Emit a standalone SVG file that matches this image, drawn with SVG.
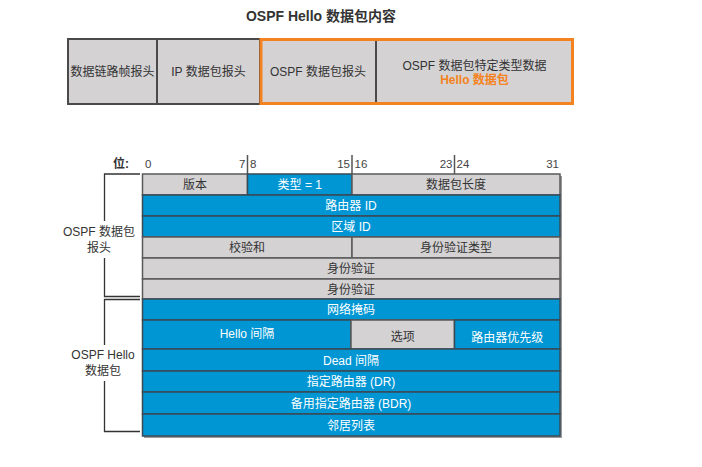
<svg xmlns="http://www.w3.org/2000/svg" width="702" height="467" viewBox="0 0 702 467">
<style>
text{font-family:"Liberation Sans","Noto Sans CJK SC",sans-serif;font-size:12px;text-anchor:middle}
.title{font-size:14px;font-weight:bold;fill:#333}
.box{fill:#d4d2d3;stroke:#4a4a4a;stroke-width:2}
.g{fill:#d4d2d3;stroke:#5a5a5a;stroke-width:1.5}
.b{fill:#0096d4;stroke:#3a4a55;stroke-width:1.5}
.tg{fill:#333}
.tb{fill:#fff}
.bit{font-size:11.5px;fill:#444}
.lbl{fill:#333}
.br{fill:none;stroke:#333;stroke-width:1.3}
</style>
<rect width="702" height="467" fill="#fff"/>
<text class="title" x="321" y="21">OSPF Hello 数据包内容</text>

<g id="frame-header">
<rect class="box" x="68" y="39" width="89" height="65"/>
<text class="tg" x="112.5" y="76">数据链路帧报头</text>
</g>
<g id="ip-header">
<rect class="box" x="157" y="39" width="103" height="65"/>
<text class="tg" x="208.5" y="76">IP 数据包报头</text>
</g>
<g id="ospf-header">
<rect class="box" x="260" y="39" width="116" height="65"/>
<text class="tg" x="318" y="76">OSPF 数据包报头</text>
</g>
<g id="ospf-data">
<rect class="box" x="376" y="39" width="197" height="65"/>
<text class="tg" x="474.5" y="70">OSPF 数据包特定类型数据</text>
<text x="474.5" y="84" style="fill:#f58220;font-weight:bold">Hello 数据包</text>
</g>
<g id="highlight">
<rect x="261" y="39.5" width="311.5" height="64" fill="none" stroke="#f58220" stroke-width="3"/>
</g>

<g id="bit-header">
<text x="121" y="168" style="font-weight:bold;fill:#333">位:</text>
<text class="bit" x="145" y="168" style="text-anchor:start">0</text>
<text class="bit" x="245.5" y="168" style="text-anchor:end">7</text>
<text class="bit" x="250" y="168" style="text-anchor:start">8</text>
<text class="bit" x="350" y="168" style="text-anchor:end">15</text>
<text class="bit" x="354.5" y="168" style="text-anchor:start">16</text>
<text class="bit" x="452.5" y="168" style="text-anchor:end">23</text>
<text class="bit" x="456.5" y="168" style="text-anchor:start">24</text>
<text class="bit" x="559" y="168" style="text-anchor:end">31</text>
<line x1="247.5" y1="155" x2="247.5" y2="174" stroke="#555" stroke-width="1.5"/>
<line x1="352" y1="155" x2="352" y2="174" stroke="#555" stroke-width="1.5"/>
<line x1="454.5" y1="155" x2="454.5" y2="174" stroke="#555" stroke-width="1.5"/>
</g>

<rect x="144" y="176" width="418" height="262" fill="#9a9a9a"/>

<g id="version"><rect class="g" x="142.5" y="174" width="105" height="21"/><text class="tg" x="195" y="189">版本</text></g>
<g id="type"><rect class="b" x="247.5" y="174" width="104.5" height="21"/><text class="tb" x="299.75" y="189">类型 = 1</text></g>
<g id="length"><rect class="g" x="352" y="174" width="208" height="21"/><text class="tg" x="456" y="189">数据包长度</text></g>
<g id="router-id"><rect class="b" x="142.5" y="195" width="417.5" height="21"/><text class="tb" x="351" y="210">路由器 ID</text></g>
<g id="area-id"><rect class="b" x="142.5" y="216" width="417.5" height="21"/><text class="tb" x="351" y="231">区域 ID</text></g>
<g id="checksum"><rect class="g" x="142.5" y="237" width="209.5" height="21"/><text class="tg" x="247" y="252">校验和</text></g>
<g id="auth-type"><rect class="g" x="352" y="237" width="208" height="21"/><text class="tg" x="456" y="252">身份验证类型</text></g>
<g id="auth1"><rect class="g" x="142.5" y="258" width="417.5" height="21"/><text class="tg" x="351" y="273">身份验证</text></g>
<g id="auth2"><rect class="g" x="142.5" y="279" width="417.5" height="20"/><text class="tg" x="351" y="293.5">身份验证</text></g>
<g id="netmask"><rect class="b" x="142.5" y="299" width="417.5" height="21"/><text class="tb" x="351" y="314">网络掩码</text></g>
<g id="hello-interval"><rect class="b" x="142.5" y="320" width="208.5" height="29"/><text class="tb" x="247" y="338">Hello 间隔</text></g>
<g id="options"><rect class="g" x="351" y="320" width="103.5" height="29"/><text class="tg" x="402.75" y="341">选项</text></g>
<g id="priority"><rect class="b" x="454.5" y="320" width="105.5" height="29"/><text class="tb" x="507.25" y="342">路由器优先级</text></g>
<g id="dead-interval"><rect class="b" x="142.5" y="349" width="417.5" height="22"/><text class="tb" x="351" y="364.5">Dead 间隔</text></g>
<g id="dr"><rect class="b" x="142.5" y="371" width="417.5" height="21"/><text class="tb" x="351" y="386">指定路由器 (DR)</text></g>
<g id="bdr"><rect class="b" x="142.5" y="392" width="417.5" height="22"/><text class="tb" x="351" y="407.5">备用指定路由器 (BDR)</text></g>
<g id="neighbors"><rect class="b" x="142.5" y="414" width="417.5" height="22"/><text class="tb" x="351" y="429.5">邻居列表</text></g>

<g id="label-ospf-header">
<text class="lbl" x="99" y="236">OSPF 数据包</text>
<text class="lbl" x="99" y="252">报头</text>
</g>
<g id="label-hello">
<text class="lbl" x="103" y="359">OSPF Hello</text>
<text class="lbl" x="103" y="375">数据包</text>
</g>

<g id="connectors">
<polyline class="br" points="140,174 104.5,174 104.5,221"/>
<polyline class="br" points="104.5,258 104.5,296.5 140,296.5"/>
<polyline class="br" points="140,299.5 104.5,299.5 104.5,345"/>
<polyline class="br" points="104.5,381 104.5,431.5 140,431.5"/>
</g>
</svg>
